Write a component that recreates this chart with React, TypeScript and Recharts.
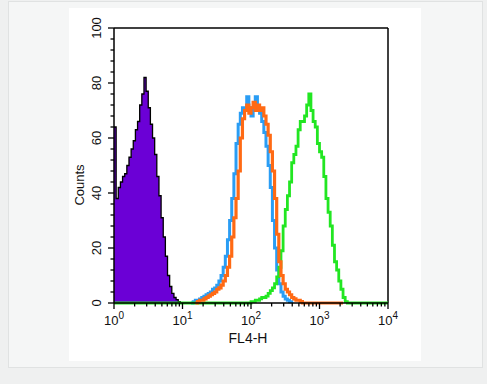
import { Area, ComposedChart, Line, ReferenceLine, XAxis, YAxis } from "recharts";

// 32 channels per decade, 4 decades (10^0 .. 10^4)
const binsPerDecade = 32;
const totalBins = 128;

const decadeTicks = [0, 1, 2, 3, 4];
const majorCountTicks = [0, 20, 40, 60, 80, 100];

// isotype control (purple filled)
const isotypeStart = 0;
const isotypeCounts = [
  64, 38, 42, 44, 46, 47, 50, 53, 56, 59, 63, 66, 72, 76, 82, 77, 71, 65, 60,
  54, 46, 39, 31, 24, 17, 10, 6, 3.5, 2, 1.2, 0.5, 0,
];

// blue sample
const blueStart = 36;
const blueCounts = [
  0, 0.5, 1, 1, 1.5, 2, 2.5, 3, 3.5, 4, 5, 5.5, 6.5, 8, 10, 13, 17, 23, 30, 38,
  47, 58, 65, 69, 71, 70, 75, 71, 68, 70, 75, 71, 69, 66, 62, 57, 50, 42, 30,
  20, 12, 7, 4, 2.5, 1.5, 1, 0.5, 0,
];

// orange sample
const orangeStart = 38;
const orangeCounts = [
  0, 0.5, 1, 1, 1.5, 2, 2.5, 3, 3.5, 4, 5, 5.5, 6.5, 8, 10, 13, 17, 24, 31, 38,
  48, 60, 67, 70, 72, 69, 71, 73, 70, 72, 70, 71, 68, 65, 61, 55, 48, 38, 25,
  15, 10, 7, 5, 4, 3, 2, 1.5, 1, 1, 0.5, 0, 0, 0, 0, 0, 0, 0, 0, 0, 0, 0, 0, 0,
  0, 0, 0, 0, 0, 0, 0,
];

// green sample
const greenStart = 63;
const greenCounts = [
  0, 0.5, 0.5, 1, 1, 1.5, 2, 2, 2.5, 3.5, 4.5, 5.5, 7, 9.5, 13, 19, 28, 34, 39,
  44, 51, 54, 57, 63, 66, 66, 68, 72, 76, 70, 66, 64, 58, 55, 53, 46, 38, 33,
  28, 21, 15, 12, 8, 5, 2, 0.5, 0,
];

const pick = (arr: number[], start: number, i: number) =>
  i >= start && i < start + arr.length ? arr[i - start] : null;

const rows = Array.from({ length: totalBins + 1 }, (_, i) => ({
  x: i / binsPerDecade,
  isotype: pick(isotypeCounts, isotypeStart, i),
  blue: pick(blueCounts, blueStart, i),
  orange: pick(orangeCounts, orangeStart, i),
  green: pick(greenCounts, greenStart, i) ?? 0,
}));

const minorLog = [2, 3, 4, 5, 6, 7, 8, 9].map((k) => Math.log10(k));
const xTicks = [
  ...decadeTicks,
  ...decadeTicks.slice(0, 4).flatMap((d) => minorLog.map((m) => d + m)),
].sort((a, b) => a - b);
const yTicks = Array.from({ length: 26 }, (_, i) => i * 4);

const font = "'Liberation Sans', Arial, sans-serif";

function XTick({ x, y, payload }: any) {
  const v = payload.value;
  const major = Math.abs(v - Math.round(v)) < 1e-6;
  return (
    <g>
      <line x1={x} x2={x} y1={y} y2={y + (major ? 6 : 3.5)} stroke="#000" strokeWidth={1.3} />
      {major && (
        <text x={x} y={y + 22} textAnchor="middle" fontSize={13} fontFamily={font} fill="#111">
          10
          <tspan dy={-6} fontSize={10}>
            {Math.round(v)}
          </tspan>
        </text>
      )}
    </g>
  );
}

function YTick({ x, y, payload }: any) {
  const v = payload.value;
  const major = majorCountTicks.includes(v);
  return (
    <g>
      <line x1={x - (major ? 6 : 3.5)} x2={x} y1={y} y2={y} stroke="#000" strokeWidth={1.3} />
      {major && (
        <text
          transform={`translate(${x - 13},${y}) rotate(-90)`}
          textAnchor="middle"
          fontSize={13}
          fontFamily={font}
          fill="#111"
        >
          {v}
        </text>
      )}
    </g>
  );
}

export default function App() {
  return (
    <div style={{ position: "absolute", left: 0, top: 0, width: 487, height: 384, background: "#eff0f0" }}>
      <div
        style={{
          position: "absolute",
          left: 8,
          top: 1,
          width: 473,
          height: 365,
          background: "#f5f6f6",
          border: "1px solid #e0e2e2",
        }}
      />
      <div style={{ position: "absolute", left: 69, top: 8, width: 352, height: 353, background: "#fff" }}>
        <ComposedChart
          width={352}
          height={353}
          data={rows}
          margin={{ top: 20, right: 33, left: 15, bottom: 28 }}
        >
          <XAxis
            type="number"
            dataKey="x"
            domain={[0, 4]}
            ticks={xTicks}
            interval={0}
            tickSize={0}
            tickMargin={0}
            tick={<XTick />}
            height={30}
            axisLine={{ stroke: "#000", strokeWidth: 1.5 }}
            allowDataOverflow
            label={{
              content: ({ viewBox }: any) => (
                <text
                  x={viewBox.x + viewBox.width / 2 - 3}
                  y={viewBox.y + 40}
                  textAnchor="middle"
                  fontSize={14}
                  fontFamily={font}
                  fill="#111"
                >
                  FL4-H
                </text>
              ),
            }}
          />
          <YAxis
            type="number"
            domain={[0, 100]}
            ticks={yTicks}
            interval={0}
            tickSize={0}
            tickMargin={0}
            tick={<YTick />}
            width={30}
            axisLine={{ stroke: "#000", strokeWidth: 1.5 }}
            label={{
              content: ({ viewBox }: any) => (
                <text
                  transform={`translate(${viewBox.x},${viewBox.y + 157}) rotate(-90)`}
                  textAnchor="middle"
                  fontSize={13}
                  fontFamily={font}
                  fill="#111"
                >
                  Counts
                </text>
              ),
            }}
          />
          <ReferenceLine y={100} stroke="#000" strokeWidth={1.5} />
          <ReferenceLine x={4} stroke="#000" strokeWidth={1.5} />
          <Area
            type="stepAfter"
            dataKey="isotype"
            stroke="#000"
            strokeWidth={1.3}
            fill="#6b00d6"
            fillOpacity={1}
            isAnimationActive={false}
          />
          <Line type="stepAfter" dataKey="blue" stroke="#2a9df4" strokeWidth={3} dot={false} isAnimationActive={false} />
          <Line type="stepAfter" dataKey="green" stroke="#22e622" strokeWidth={2.8} dot={false} isAnimationActive={false} />
          <Line type="stepAfter" dataKey="orange" stroke="#ff6a14" strokeWidth={3.2} dot={false} isAnimationActive={false} />
        </ComposedChart>
      </div>
    </div>
  );
}
